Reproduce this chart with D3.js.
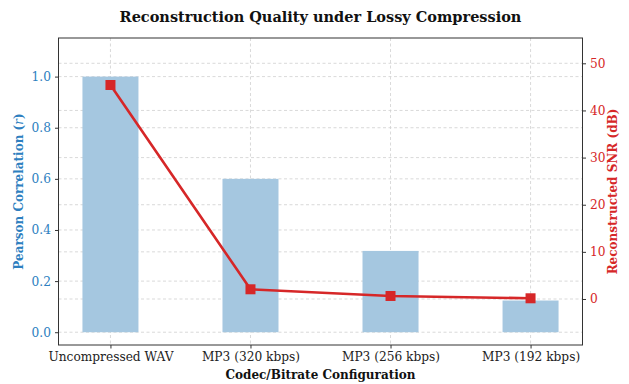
<!DOCTYPE html>
<html><head><meta charset="utf-8">
<script src="https://cdn.jsdelivr.net/npm/d3@7"></script>
<style>body{margin:0;background:#fff}svg{display:block}text{font-family:"DejaVu Serif",serif}</style>
</head><body><svg id="c" width="629" height="384"></svg>
<script>
const categories = ["Uncompressed WAV","MP3 (320 kbps)","MP3 (256 kbps)","MP3 (192 kbps)"];
const pearson = [1.0, 0.6, 0.318, 0.124];
const snr = [45.4, 2.06, 0.64, 0.15];
const leftTicks = [0,0.2,0.4,0.6,0.8,1.0];
const rightTicks = [0,10,20,30,40,50];

const blue = "#2e7fbf", red = "#d62728", barColor = "#a5c7e0";
const svg = d3.select("#c");
const L = 58.5, R = 582.5, T = 38, B = 345;

const x = d3.scaleLinear().domain([-0.371, 3.371]).range([L, R]);
const yL = d3.scaleLinear().domain([-0.05, 1.151]).range([B, T]);
const yR = d3.scaleLinear().domain([-9.76, 55.37]).range([B, T]);
const bw = x(0.2) - x(-0.2);

const g = svg.append("g");
// grid
const grid = g.append("g").attr("stroke","#cfcfcf").attr("stroke-width",0.8).attr("stroke-dasharray","3,2.5").attr("fill","none");
leftTicks.forEach(t=>grid.append("line").attr("x1",L).attr("x2",R).attr("y1",yL(t)).attr("y2",yL(t)));
rightTicks.forEach(t=>grid.append("line").attr("x1",L).attr("x2",R).attr("y1",yR(t)).attr("y2",yR(t)));
categories.forEach((c,i)=>grid.append("line").attr("x1",x(i)).attr("x2",x(i)).attr("y1",T).attr("y2",B));

// bars
g.selectAll("rect.bar").data(pearson).join("rect").attr("class","bar")
 .attr("x",(d,i)=>x(i)-bw/2).attr("width",bw)
 .attr("y",d=>yL(d)).attr("height",d=>yL(0)-yL(d)).attr("fill",barColor);

// line
const line = d3.line().x((d,i)=>x(i)).y(d=>yR(d));
g.append("path").datum(snr).attr("d",line).attr("fill","none").attr("stroke",red).attr("stroke-width",2.6);
g.selectAll("rect.mk").data(snr).join("rect").attr("class","mk")
 .attr("x",(d,i)=>x(i)-5).attr("y",d=>yR(d)-5).attr("width",10).attr("height",10).attr("fill",red);

// frame
g.append("rect").attr("x",L).attr("y",T).attr("width",R-L).attr("height",B-T).attr("fill","none").attr("stroke","#333").attr("stroke-width",1);

// axes
const fs = "12.2px";
const axL = svg.append("g").attr("transform",`translate(${L},0)`)
 .call(d3.axisLeft(yL).tickValues(leftTicks).tickFormat(d3.format(".1f")).tickSize(3.5).tickPadding(4));
axL.select(".domain").remove();
axL.selectAll("line").attr("stroke","#333");
axL.selectAll("text").attr("fill",blue).style("font-size",fs);

const axR = svg.append("g").attr("transform",`translate(${R},0)`)
 .call(d3.axisRight(yR).tickValues(rightTicks).tickFormat(d3.format("d")).tickSize(3.5).tickPadding(4));
axR.select(".domain").remove();
axR.selectAll("line").attr("stroke","#333");
axR.selectAll("text").attr("fill",red).style("font-size",fs);

const axB = svg.append("g").attr("transform",`translate(0,${B})`)
 .call(d3.axisBottom(x).tickValues(d3.range(categories.length)).tickFormat(i=>categories[i]).tickSize(3.5).tickPadding(4));
axB.select(".domain").remove();
axB.selectAll("line").attr("stroke","#333");
axB.selectAll("text").attr("fill","#222").style("font-size",fs);

// titles
svg.append("text").attr("x",(L+R)/2).attr("y",22).attr("text-anchor","middle")
 .style("font-size","14.5px").style("font-weight","bold").attr("fill","#111")
 .text("Reconstruction Quality under Lossy Compression");
svg.append("text").attr("x",(L+R)/2).attr("y",379).attr("text-anchor","middle")
 .style("font-size","12px").style("font-weight","bold").attr("fill","#111")
 .text("Codec/Bitrate Configuration");
const yl = svg.append("text").attr("transform",`translate(23,${(T+B)/2}) rotate(-90)`).attr("text-anchor","middle")
 .style("font-size","12px").style("font-weight","bold").attr("fill",blue);
yl.append("tspan").text("Pearson Correlation (");
yl.append("tspan").style("font-style","italic").style("font-weight","normal").text("r");
yl.append("tspan").text(")");
svg.append("text").attr("transform",`translate(617,${(T+B)/2}) rotate(-90)`).attr("text-anchor","middle")
 .style("font-size","12px").style("font-weight","bold").attr("fill",red)
 .text("Reconstructed SNR (dB)");
</script></body></html>
